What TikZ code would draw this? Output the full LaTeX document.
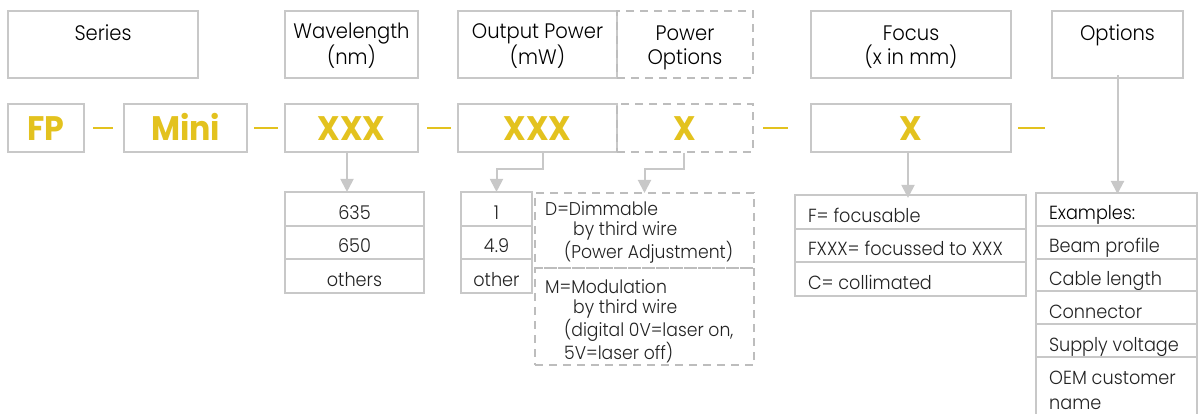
\documentclass[tikz,border=0pt]{standalone}
\usepackage{fontspec}
\setmainfont{Poppins}[FakeStretch=0.93,UprightFont=* Light,BoldFont=* Bold]
\usetikzlibrary{arrows.meta,calc}
\definecolor{gold}{HTML}{E3C21E}
\definecolor{boxgray}{HTML}{C8C8C8}
\definecolor{dashgray}{HTML}{BDBDBD}
\definecolor{txt}{HTML}{222222}
\begin{document}
\begin{tikzpicture}[x=1pt,y=-1pt,
  box/.style={draw=boxgray,line width=2pt,inner sep=0pt,rectangle},
  dbox/.style={draw=dashgray,line width=2pt,dash pattern=on 8pt off 6pt,inner sep=0pt,rectangle},
  title/.style={font=\fontsize{21}{24}\selectfont,text=black,align=center,inner sep=0pt},
  code/.style={font=\fontsize{34}{36}\bfseries\selectfont,text=gold,inner sep=0pt},
  cell/.style={box,font=\fontsize{19}{22}\selectfont,text=txt,text height=22pt,text depth=1pt},
  opttext/.style={anchor=north west,inner sep=0pt,align=left,text=txt,font=\fontsize{18.5}{19.7}\selectfont},
  sep/.style={draw=gold,line width=2.5pt},
  arr/.style={draw=boxgray,line width=2pt,-{Triangle[width=13pt,length=13pt]}}]
\useasboundingbox (0,0) rectangle (1200,414);
% title boxes
\node[box,minimum width=190,minimum height=67] (series) at (103,44.5) {};
\node[box,minimum width=133,minimum height=67] (wl) at (351.5,44.5) {};
\node[box,minimum width=159,minimum height=67] (op) at (537.5,44.5) {};
\node[dbox,minimum width=136,minimum height=67] (po) at (685,44.5) {};
\node[box,minimum width=200,minimum height=67] (fo) at (911,44.5) {};
\node[box,minimum width=131,minimum height=67] (opt) at (1117.5,44.5) {};
\node[title,anchor=base] (tseries) at (103,41) {Series};
\node[title,anchor=base] (twl) at (351.5,65) {Wavelength\\(nm)};
\node[title,anchor=base] (top) at (537.5,65) {Output Power\\(mW)};
\node[title,anchor=base] (tpo) at (685,65) {Power\\Options};
\node[title,anchor=base] (tfo) at (911,65) {Focus\\(x in mm)};
\node[title,anchor=base] (topt) at (1117.5,41) {Options};
% code boxes
\node[box,minimum width=76,minimum height=48] (fp) at (46,128) {};
\node[box,minimum width=123,minimum height=48] (mini) at (185.5,128) {};
\node[box,minimum width=133,minimum height=48] (wlx) at (351.5,128) {};
\node[box,minimum width=159,minimum height=48] (opx) at (537.5,128) {};
\node[dbox,minimum width=136,minimum height=48] (pox) at (685,128) {};
\node[box,minimum width=200,minimum height=48] (fox) at (911,128) {};
\node[code,anchor=base] (cfp) at (46,141) {FP};
\node[code,anchor=base] (cmini) at (185.5,141) {Mini};
\node[code,anchor=base] (cwl) at (351.5,141) {XXX};
\node[code,anchor=base] (cop) at (537.5,141) {XXX};
\node[code,anchor=base] (cpo) at (685,141) {X};
\node[code,anchor=base] (cfo) at (911,141) {X};
% separators
\draw[sep] ([xshift=8pt]fp.east) -- ([xshift=-10pt]mini.west);
\draw[sep] ([xshift=6pt]mini.east) -- ([xshift=-6pt]wlx.west);
\draw[sep] ([xshift=8pt]wlx.east) -- ([xshift=-6pt]opx.west);
\draw[sep] ([xshift=9pt]pox.east) -- ([xshift=34pt]pox.east);
\draw[sep] ([xshift=6pt]fox.east) -- ([xshift=33pt]fox.east);
% wavelength list
\node[cell,minimum width=139,minimum height=33.7] (w1) at (354.5,208.8) {635};
\node[cell,minimum width=139,minimum height=33.7] (w2) at (354.5,242.5) {650};
\node[cell,minimum width=139,minimum height=33.7] (w3) at (354.5,276.2) {others};
% power list
\node[cell,minimum width=71,minimum height=33.7] (p1) at (496.5,208.8) {1};
\node[cell,minimum width=71,minimum height=33.7] (p2) at (496.5,242.5) {4.9};
\node[cell,minimum width=71,minimum height=33.7] (p3) at (496.5,276.2) {other};
% power options
\node[dbox,minimum width=219,minimum height=75] (dopt) at (644.5,230.5) {};
\node[dbox,minimum width=219,minimum height=97] (mopt) at (644.5,316.5) {};
\node[opttext] (dtext) at (545,201.5) {D=Dimmable\\\hspace*{28pt}by third wire\\\hspace*{19pt}(Power Adjustment)};
\node[opttext] (mtext) at (545,279.5) {M=Modulation\\\hspace*{28pt}by third wire\\\hspace*{19pt}(digital 0V=laser on,\\\hspace*{19pt}5V=laser off)};
% focus list
\tikzset{fcell/.style={cell,minimum width=231,minimum height=33.7,inner xsep=0pt}}
\node[fcell] (f1) at (910.5,211.8) {\makebox[205pt][l]{F= focusable}};
\node[fcell] (f2) at (910.5,245.5) {\makebox[205pt][l]{FXXX= focussed to XXX}};
\node[fcell] (f3) at (910.5,279.2) {\makebox[205pt][l]{C= collimated}};
% options list
\tikzset{ocell/.style={cell,minimum width=161,minimum height=32.8,inner xsep=0pt}}
\node[ocell,text=black] (o1) at (1116.5,209.4) {\makebox[135pt][l]{Examples:}};
\node[ocell] (o2) at (1116.5,242.2) {\makebox[135pt][l]{Beam profile}};
\node[ocell] (o3) at (1116.5,275) {\makebox[135pt][l]{Cable length}};
\node[ocell] (o4) at (1116.5,307.8) {\makebox[135pt][l]{Connector}};
\node[ocell] (o5) at (1116.5,340.6) {\makebox[135pt][l]{Supply voltage}};
\node[box,minimum width=161,minimum height=80] (o6) at (1116.5,397) {};
\node[anchor=base west,inner sep=0pt,align=left,text=txt,font=\fontsize{19}{25}\selectfont] (o6t) at (1049,409) {OEM customer\\name};
% connectors
\draw[arr] ([xshift=-4.5pt]wlx.south) -- ([xshift=-4.5pt,yshift=-1pt]wlx.south |- w1.north);
\draw[arr] ([xshift=5.5pt]opx.south) -- ++(0,16) -| ([yshift=-1pt]p1.north);
\draw[arr] ([xshift=-1pt]pox.south) -- ++(0,16) -| ([yshift=-1pt]dopt.north);
\draw[arr] ([xshift=-3pt]fox.south) -- ([xshift=-3pt,yshift=-4pt]fox.south |- f1.north);
\draw[arr] ([yshift=4pt]opt.south) -- ([yshift=-2pt]opt.south |- o1.north);
\end{tikzpicture}
\end{document}
